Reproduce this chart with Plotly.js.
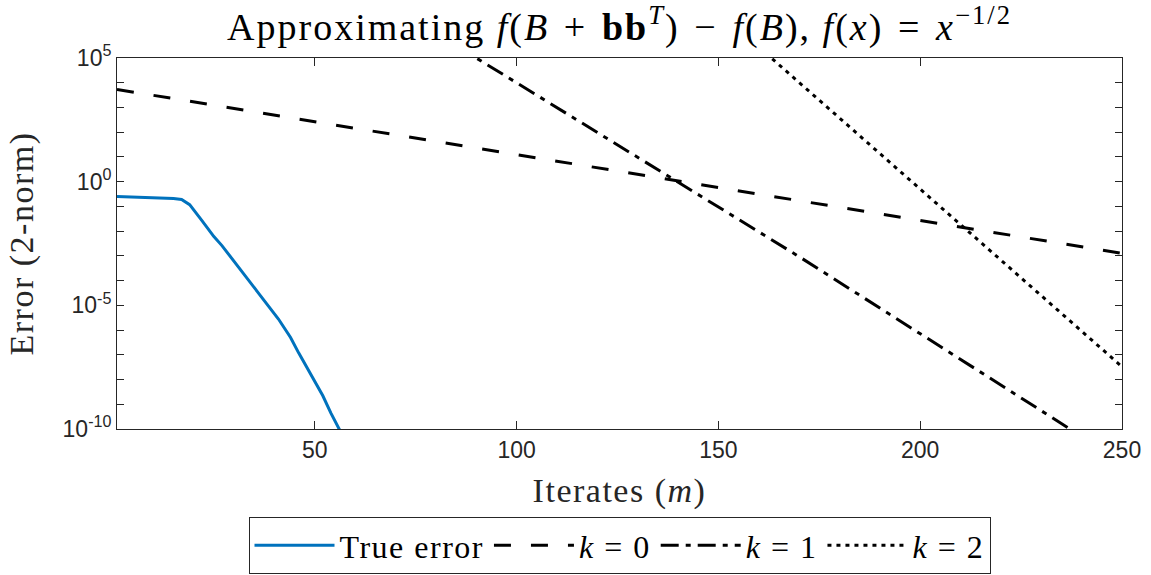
<!DOCTYPE html>
<html><head><meta charset="utf-8">
<script src="https://cdn.plot.ly/plotly-3.0.1.min.js"></script>
<style>
html,body{margin:0;padding:0;background:#fff}
.gtitle{letter-spacing:2px}
.xtitle,.ytitle{letter-spacing:1.5px}
.legendtext{letter-spacing:1.5px}
</style>
</head><body><div id="chart" style="width:1151px;height:575px"></div>
<script>
// True error (blue)
const trueErrX = [1, 10, 15, 17, 19, 22, 25, 27, 30, 33, 36, 41, 44, 46, 50, 52, 54, 56, 57];
const trueErrY = [0.251, 0.224, 0.209, 0.191, 0.117, 0.027, 6.0e-3, 2.6e-3, 6.2e-4, 1.5e-4, 3.2e-5, 2.8e-6, 5.0e-7, 1.2e-7, 8.5e-9, 2.2e-9, 4.4e-10, 1.07e-10, 5e-11];
// Bounds
const k0X = [1, 250];
const k0Y = [5370, 1.26e-3];
const k1X = [85, 170, 240];
const k1Y = [3.2e5, 9.3e-4, 5e-11];
const k2X = [160, 250];
const k2Y = [2.8e5, 3.3e-8];
const seriesNames = ['True error', '<i>k</i> = 0', '<i>k</i> = 1', '<i>k</i> = 2'];
const xTickVals = [50, 100, 150, 200, 250];
const yTickVals = [1e-10, 1e-9, 1e-8, 1e-7, 1e-6, 1e-5, 1e-4, 1e-3, 1e-2, 1e-1, 1e0, 1e1, 1e2, 1e3, 1e4, 1e5];
const yTickText = ['10<sup>-10</sup>', '', '', '', '', '10<sup>-5</sup>', '', '', '', '', '10<sup>0</sup>', '', '', '', '', '10<sup>5</sup>'];

const axisColor = '#262626';
const traces = [
  {x: trueErrX, y: trueErrY, name: seriesNames[0], mode: 'lines', line: {color: '#0072BD', width: 3}},
  {x: k0X, y: k0Y, name: seriesNames[1], mode: 'lines', line: {color: '#000', width: 3, dash: '17px,20px'}},
  {x: k1X, y: k1Y, name: seriesNames[2], mode: 'lines', line: {color: '#000', width: 3, dash: '18px,7px,5px,7px'}},
  {x: k2X, y: k2Y, name: seriesNames[3], mode: 'lines', line: {color: '#000', width: 3, dash: '4px,5px'}}
];
const layout = {
  width: 1151, height: 575,
  margin: {l: 117, r: 29, t: 58, b: 146},
  paper_bgcolor: '#fff', plot_bgcolor: '#fff',
  showlegend: true,
  title: {text: 'Approximating <i>f</i>(<i>B</i>\u2004+\u2004<b>bb</b><sup><i>T</i></sup>)\u2004−\u2004<i>f</i>(<i>B</i>), <i>f</i>(<i>x</i>)\u2004=\u2004<i>x</i><sup>−1/2</sup>',
          x: 0.5, xref: 'paper', xanchor: 'center', y: 1 - 27/575, yref: 'container', yanchor: 'middle',
          font: {family: 'Liberation Serif', size: 38, color: '#000'}},
  xaxis: {range: [1, 250], tickvals: xTickVals, ticks: 'inside', ticklen: 8, tickcolor: axisColor,
          showline: true, linecolor: axisColor, linewidth: 1, mirror: 'ticks', showgrid: false, zeroline: false,
          tickfont: {family: 'Liberation Sans', size: 23, color: '#262626'},
          title: {text: 'Iterates (<i>m</i>)', font: {family: 'Liberation Serif', size: 34, color: '#262626'}, standoff: 16}},
  yaxis: {type: 'log', range: [-10, 5], tickvals: yTickVals, ticktext: yTickText, ticks: 'inside', ticklen: 7, tickcolor: axisColor,
          showline: true, linecolor: axisColor, linewidth: 1, mirror: 'ticks', showgrid: false, zeroline: false,
          tickfont: {family: 'Liberation Sans', size: 23, color: '#262626'},
          title: {text: 'Error (2-norm)', font: {family: 'Liberation Serif', size: 34, color: '#262626'}, standoff: 18}},
  legend: {orientation: 'h', x: 0.5, xanchor: 'center', xref: 'paper', y: 1 - 517/575, yref: 'container', yanchor: 'top',
           bordercolor: '#262626', borderwidth: 1, bgcolor: '#fff', itemwidth: 80,
           font: {family: 'Liberation Serif', size: 32, color: '#000'}, tracegroupgap: 0}
};
Plotly.newPlot('chart', traces, layout, {displayModeBar: false, staticPlot: true});
</script></body></html>
